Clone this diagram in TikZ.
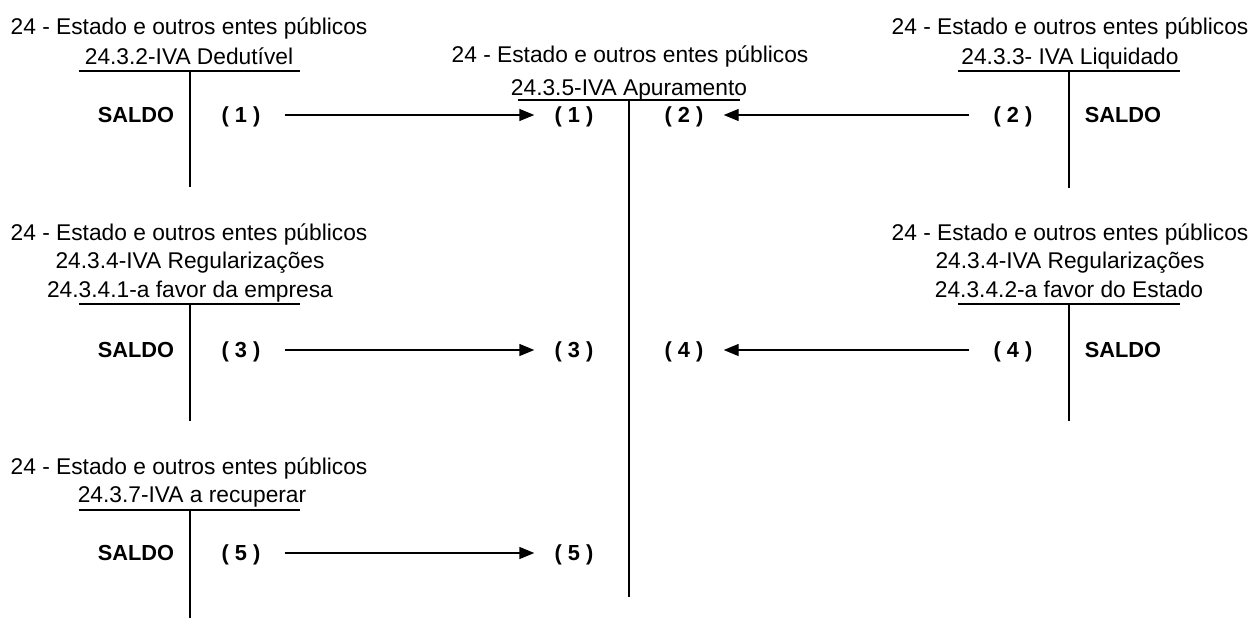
\documentclass[tikz,border=0pt]{standalone}
\usepackage{fontspec}
\setmainfont{Liberation Sans}
\usetikzlibrary{arrows.meta}
\begin{document}
\begin{tikzpicture}[x=0.02cm,y=-0.02cm,
  title/.style={anchor=base,inner sep=0pt,font=\fontsize{12.95pt}{14pt}\selectfont},
  lbl/.style={anchor=center,inner sep=0pt,text depth=0pt,font=\fontsize{12.4pt}{14pt}\selectfont\bfseries},
  tline/.style={line width=0.9pt},
  arr/.style={line width=0.8pt,-{Triangle[length=0.3cm,width=0.24cm]},shorten <=0.48cm,shorten >=0.4cm}]
\useasboundingbox (0,0) rectangle (1250,619);

% ---- top-left: 24.3.2
\node[title] (t1a) at (189,34) {24 - Estado e outros entes públicos};
\node[title] (t1b) at (189,64) {24.3.2-IVA Dedutível};
\draw[tline] (79,71) -- (300,71) (190,71) -- (190,187);
\node[lbl] (s1) at (136,115) {SALDO};
\node[lbl] (l1) at (241,115) {( 1 )};

% ---- centre: 24.3.5
\node[title] (tca) at (630,62) {24 - Estado e outros entes públicos};
\node[title] (tcb) at (629,95) {24.3.5-IVA Apuramento};
\draw[tline] (518,100) -- (740,100) (629,100) -- (629,597);
\node[lbl] (c1) at (574,115) {( 1 )};
\node[lbl] (c2) at (684,115) {( 2 )};
\node[lbl] (c3) at (574,350) {( 3 )};
\node[lbl] (c4) at (684,350) {( 4 )};
\node[lbl] (c5) at (574,553) {( 5 )};

% ---- top-right: 24.3.3
\node[title] (t2a) at (1070,34) {24 - Estado e outros entes públicos};
\node[title] (t2b) at (1070,64) {24.3.3- IVA Liquidado};
\draw[tline] (958,71) -- (1180,71) (1069,71) -- (1069,188);
\node[lbl] (r2) at (1013,115) {( 2 )};
\node[lbl] (s2) at (1123,115) {SALDO};

% ---- middle-left: 24.3.4.1
\node[title] (t3a) at (189,240) {24 - Estado e outros entes públicos};
\node[title] (t3b) at (190,268) {24.3.4-IVA Regularizações};
\node[title] (t3c) at (190,297) {24.3.4.1-a favor da empresa};
\draw[tline] (79,304) -- (300,304) (190,304) -- (190,421);
\node[lbl] (s3) at (136,350) {SALDO};
\node[lbl] (l3) at (241,350) {( 3 )};

% ---- middle-right: 24.3.4.2
\node[title] (t4a) at (1070,240) {24 - Estado e outros entes públicos};
\node[title] (t4b) at (1070,268) {24.3.4-IVA Regularizações};
\node[title] (t4c) at (1069,297) {24.3.4.2-a favor do Estado};
\draw[tline] (958,304) -- (1180,304) (1069,304) -- (1069,421);
\node[lbl] (r4) at (1013,350) {( 4 )};
\node[lbl] (s4) at (1123,350) {SALDO};

% ---- bottom-left: 24.3.7
\node[title] (t5a) at (189,474) {24 - Estado e outros entes públicos};
\node[title] (t5b) at (192,502) {24.3.7-IVA a recuperar};
\draw[tline] (79,510) -- (300,510) (190,510) -- (190,618);
\node[lbl] (s5) at (136,553) {SALDO};
\node[lbl] (l5) at (241,553) {( 5 )};

% ---- arrows
\draw[arr] (l1) -- (c1);
\draw[arr] (r2) -- (c2);
\draw[arr] (l3) -- (c3);
\draw[arr] (r4) -- (c4);
\draw[arr] (l5) -- (c5);
\end{tikzpicture}
\end{document}
